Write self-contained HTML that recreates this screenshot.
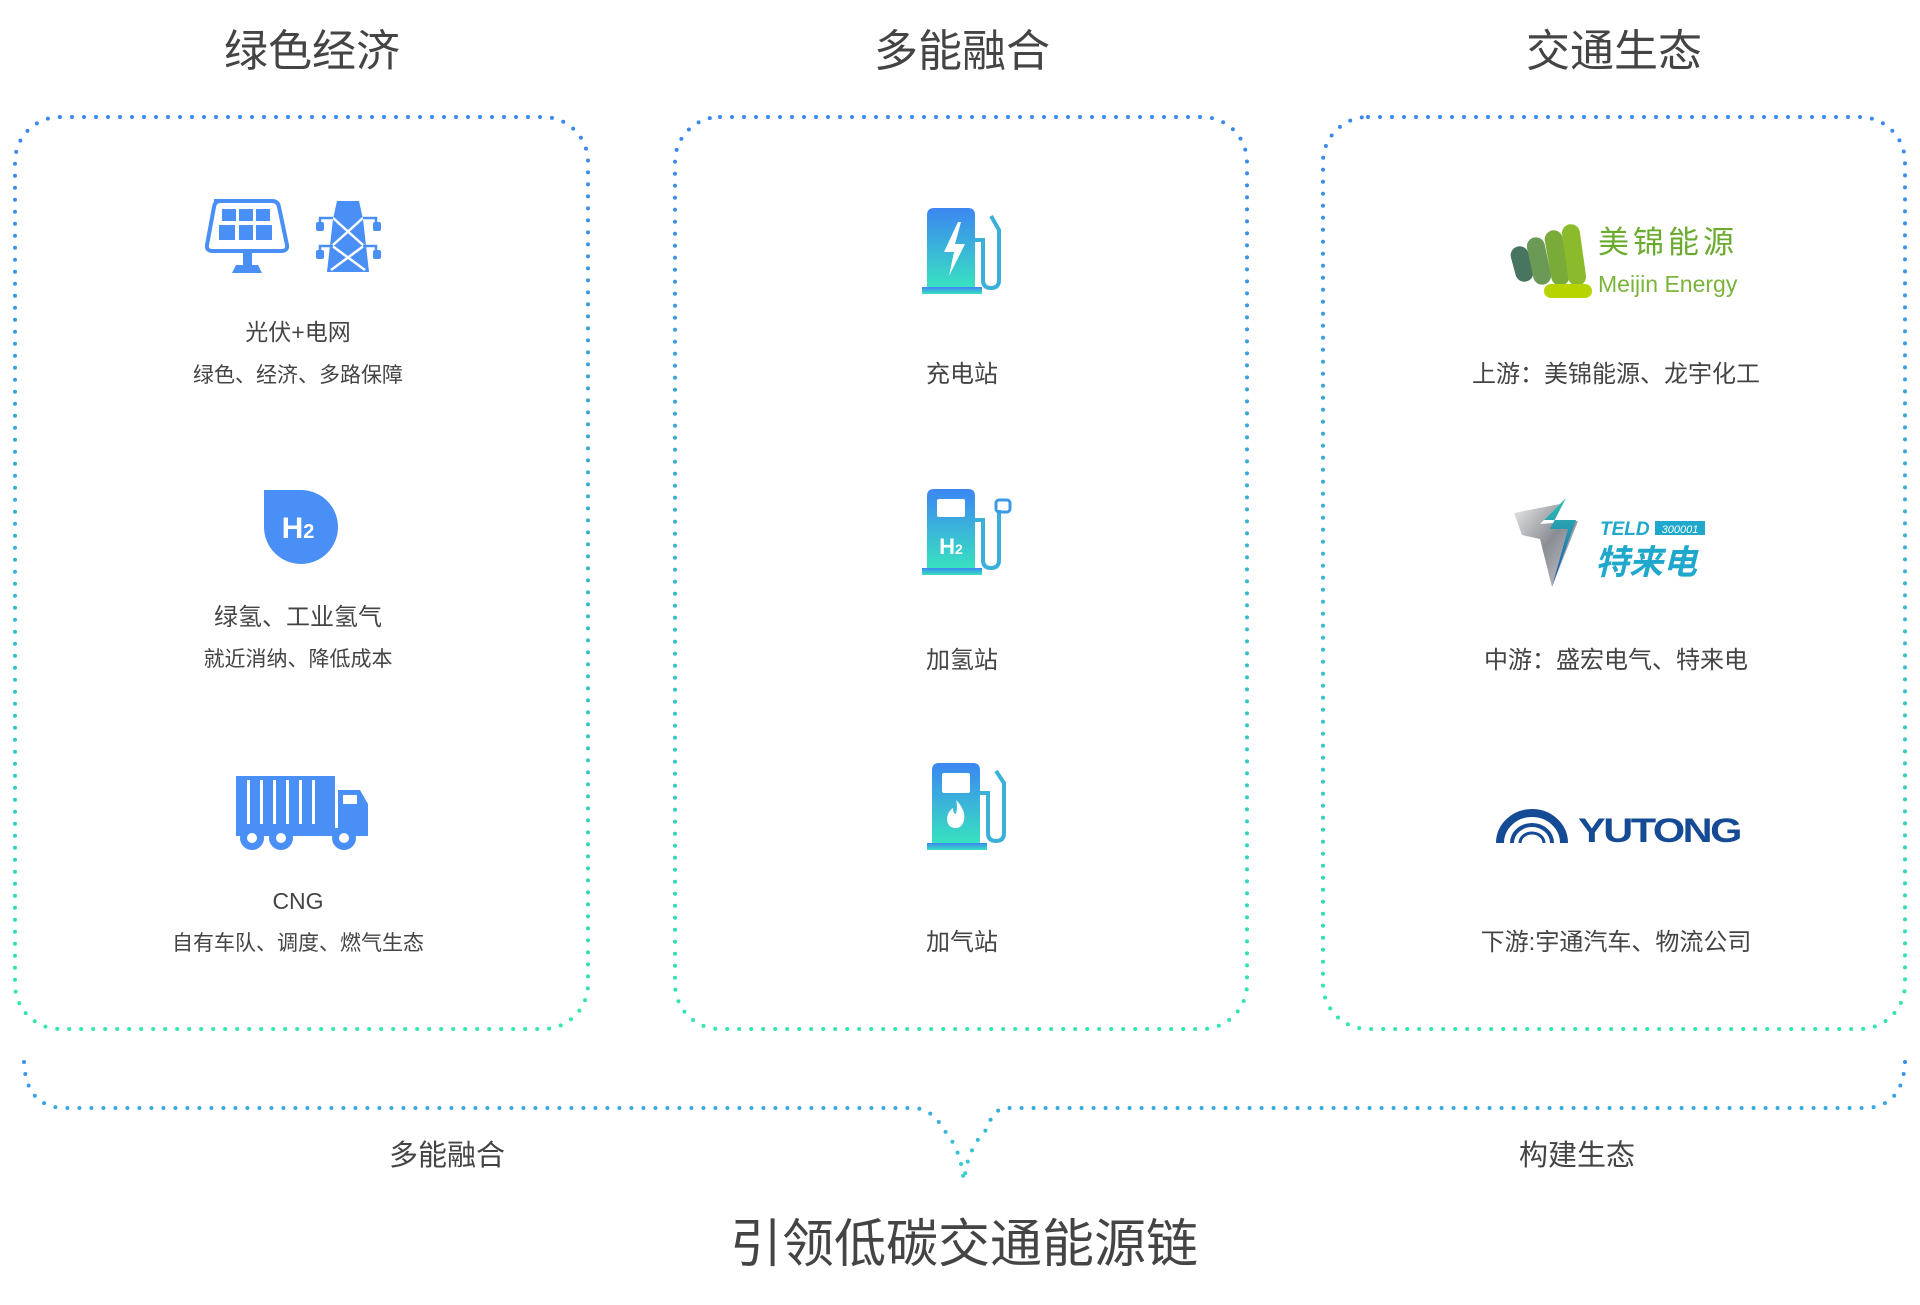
<!DOCTYPE html>
<html><head><meta charset="utf-8"><style>
html,body{margin:0;padding:0;background:#fff;}
svg{display:block;}
text{font-family:"Liberation Sans","Noto Sans CJK SC",sans-serif;}
</style></head><body>
<svg width="1920" height="1305" viewBox="0 0 1920 1305" xmlns="http://www.w3.org/2000/svg">
<defs>
<linearGradient id="bx" x1="0" y1="0" x2="0" y2="1"><stop offset="0" stop-color="#3b87ee"/><stop offset="1" stop-color="#33e6b0"/></linearGradient>
<linearGradient id="br" gradientUnits="userSpaceOnUse" x1="0" y1="1060" x2="0" y2="1190"><stop offset="0" stop-color="#3a8ef0"/><stop offset="1" stop-color="#35d8c8"/></linearGradient>
<linearGradient id="ic" x1="0" y1="0" x2="0" y2="1"><stop offset="0" stop-color="#3c86f2"/><stop offset="1" stop-color="#38e2c0"/></linearGradient>
<linearGradient id="tl" x1="0" y1="0" x2="1" y2="1"><stop offset="0" stop-color="#e8e8e8"/><stop offset="0.5" stop-color="#8a8e94"/><stop offset="1" stop-color="#c9ccd0"/></linearGradient>
<linearGradient id="tb" x1="0" y1="0" x2="0" y2="1"><stop offset="0" stop-color="#2ec0b0"/><stop offset="1" stop-color="#1a4fb0"/></linearGradient>
</defs>
<g fill="none" stroke-width="4" stroke-linecap="round" stroke-dasharray="0 12">
<rect x="15" y="117" width="573" height="912" rx="45" stroke="url(#bx)"/>
<rect x="675" y="117" width="572" height="912" rx="45" stroke="url(#bx)"/>
<rect x="1323" y="117" width="582" height="912" rx="45" stroke="url(#bx)"/>
<path d="M24,1062 Q26,1108 66,1108 L912,1108 Q932,1108 944,1130 Q962,1150 964,1185" stroke="url(#br)"/>
<path d="M1905,1062 Q1903,1108 1863,1108 L1006,1108 Q994,1108 986,1130 Q966,1150 964,1185" stroke="url(#br)"/>
</g>
<g fill="#444" text-anchor="middle">
<text x="312" y="66" font-size="44">绿色经济</text>
<text x="962" y="66" font-size="44">多能融合</text>
<text x="1614" y="66" font-size="44">交通生态</text>
<text x="447" y="1165" font-size="29">多能融合</text>
<text x="1577" y="1165" font-size="29">构建生态</text>
<text x="964" y="1262" font-size="52">引领低碳交通能源链</text>
</g>
<g fill="#444" text-anchor="middle">
<text x="298" y="340" font-size="23">光伏+电网</text>
<text x="298" y="382" font-size="21">绿色、经济、多路保障</text>
<text x="298" y="625" font-size="24">绿氢、工业氢气</text>
<text x="298" y="666" font-size="21">就近消纳、降低成本</text>
<text x="298" y="909" font-size="23">CNG</text>
<text x="298" y="950" font-size="21">自有车队、调度、燃气生态</text>
<text x="962" y="382" font-size="24">充电站</text>
<text x="962" y="668" font-size="24">加氢站</text>
<text x="962" y="950" font-size="24">加气站</text>
<text x="1616" y="382" font-size="24">上游：美锦能源、龙宇化工</text>
<text x="1616" y="668" font-size="24">中游：盛宏电气、特来电</text>
<text x="1616" y="950" font-size="24">下游:宇通汽车、物流公司</text>
</g>
<!-- solar -->
<g fill="#4a8ff5">
<path d="M214,201 h58 q6,0 7,6 l8,38 q1,6 -6,6 h-68 q-7,0 -6,-6 l7,-38 q1,-6 6,-6z" fill="none" stroke="#4a8ff5" stroke-width="4"/>
<rect x="222" y="209" width="14" height="12"/><rect x="239" y="209" width="14" height="12"/><rect x="256" y="209" width="14" height="12"/>
<rect x="219" y="225" width="16" height="15"/><rect x="239" y="225" width="14" height="15"/><rect x="256" y="225" width="16" height="15"/>
<rect x="243" y="251" width="9" height="15"/><path d="M236,265 h22 l4,8 h-30z"/>
<path d="M337,201 h22 l4,18 l6,53 h-42 l6,-53z"/>
<g stroke="#fff" stroke-width="2.5"><line x1="333" y1="218" x2="363" y2="245"/><line x1="363" y1="218" x2="333" y2="245"/><line x1="331" y1="245" x2="365" y2="270"/><line x1="365" y1="245" x2="331" y2="270"/></g>
<g fill="none" stroke="#4a8ff5" stroke-width="2.5"><path d="M333,218 h-13 v6"/><path d="M333,246 h-13 v6"/><path d="M363,218 h13 v6"/><path d="M363,246 h13 v6"/></g>
<rect x="316" y="222" width="8" height="9" rx="2"/><rect x="316" y="250" width="8" height="9" rx="2"/><rect x="373" y="222" width="8" height="9" rx="2"/><rect x="373" y="250" width="8" height="9" rx="2"/>
<path d="M264,490 h37 a37,37 0 1 1 -37,37z"/>
<rect x="236" y="776" width="99" height="52"/>
<path d="M338,790 h22 l8,14 v30 h-30z"/>
<rect x="236" y="828" width="132" height="8"/>
<circle cx="252" cy="838" r="12"/><circle cx="281" cy="838" r="12"/><circle cx="344" cy="838" r="12"/>
</g>
<g fill="#fff"><text x="298" y="538" font-size="30" font-weight="bold" text-anchor="middle">H<tspan font-size="20">2</tspan></text>
<g fill="#fff"><rect x="247" y="780" width="3" height="44"/><rect x="260" y="780" width="3" height="44"/><rect x="273" y="780" width="3" height="44"/><rect x="286" y="780" width="3" height="44"/><rect x="299" y="780" width="3" height="44"/><rect x="312" y="780" width="3" height="44"/><rect x="343" y="795" width="14" height="9"/></g>
<circle cx="252" cy="838" r="5" fill="#fff"/><circle cx="281" cy="838" r="5" fill="#fff"/><circle cx="344" cy="838" r="5" fill="#fff"/></g>
<g fill="url(#ic)">
<path d="M934,208 h34 q7,0 7,7 v73 h-48 v-73 q0,-7 7,-7z"/><rect x="922" y="287" width="60" height="7"/>
<path d="M934,489 h34 q7,0 7,7 v73 h-48 v-73 q0,-7 7,-7z"/><rect x="922" y="568" width="60" height="7"/>
<path d="M939,763 h34 q7,0 7,7 v73 h-48 v-73 q0,-7 7,-7z"/><rect x="927" y="843" width="60" height="7"/>
</g>
<g fill="none" stroke="#3bb0d8" stroke-width="4">
<path d="M975,240 h8 v40 q0,8 8,8 q8,0 8,-8 v-50 l-8,-14"/>
<path d="M975,520 h8 v40 q0,8 8,8 q8,0 8,-8 v-50"/>
<path d="M980,793 h8 v40 q0,8 8,8 q8,0 8,-8 v-50 l-8,-12"/>
</g>
<rect x="996" y="500" width="14" height="12" rx="3" fill="none" stroke="#3b9ae8" stroke-width="3"/>
<g fill="#fff"><path d="M958,222 l-14,30 h10 l-5,24 l16,-32 h-10 l6,-22z"/>
<rect x="937" y="499" width="28" height="18" rx="2"/><text x="951" y="554" font-size="22" font-weight="bold" text-anchor="middle">H<tspan font-size="14">2</tspan></text>
<rect x="942" y="773" width="28" height="20" rx="2"/><path d="M956,800 q10,10 8,20 q-2,8 -8,8 q-8,0 -9,-8 q0,-8 6,-12 q0,6 3,6 q2,-8 0,-14z"/></g>
<g transform="translate(1510,224)">
<rect x="3" y="22" width="18" height="36" rx="9" fill="#477560" transform="rotate(-15 12 40)"/>
<rect x="20" y="13" width="18" height="48" rx="9" fill="#6a9a56" transform="rotate(-12 29 37)"/>
<rect x="38" y="6" width="18" height="56" rx="9" fill="#7aab38" transform="rotate(-10 47 34)"/>
<rect x="55" y="0" width="18" height="62" rx="9" fill="#8bbb2c" transform="rotate(-8 64 31)"/>
<rect x="34" y="60" width="48" height="14" rx="7" fill="#b7d400"/>
</g>
<text x="1598" y="253" font-size="31" fill="#6aaa2e" letter-spacing="4">美锦能源</text>
<text x="1598" y="292" font-size="23" fill="#7ab43a">Meijin Energy</text>
<path d="M1514,513 l46,-9 l-20,20 l38,-3 l-26,66 l-12,-48 l-18,-4z" fill="url(#tl)"/>
<path d="M1566,498 l-22,22 l32,0 l-24,67 l16,-58 l-18,0z" fill="url(#tb)"/>
<text x="1600" y="535" font-size="19" font-weight="bold" font-style="italic" fill="#1fa8cc" font-family="Liberation Serif,serif">TELD</text>
<rect x="1655" y="521" width="50" height="14" fill="#1fa8cc"/><text x="1680" y="533" font-size="11" fill="#fff" text-anchor="middle" font-style="italic">300001</text>
<text x="1595" y="574" font-size="34" font-weight="bold" font-style="italic" fill="#1fa8cc">特来电</text>
<g fill="none" stroke="#154a95">
<path d="M1500,843 a32,30 0 0 1 64,0" stroke-width="8"/>
<path d="M1512,843 a20,18 0 0 1 40,0" stroke-width="4"/>
<path d="M1520,843 a12,10 0 0 1 24,0" stroke-width="3"/>
</g>
<text x="0" y="0" font-size="34" font-weight="bold" fill="#154a95" letter-spacing="-2" transform="translate(1578,842) scale(1.22,1)">YUTONG</text>
</svg>
</body></html>
